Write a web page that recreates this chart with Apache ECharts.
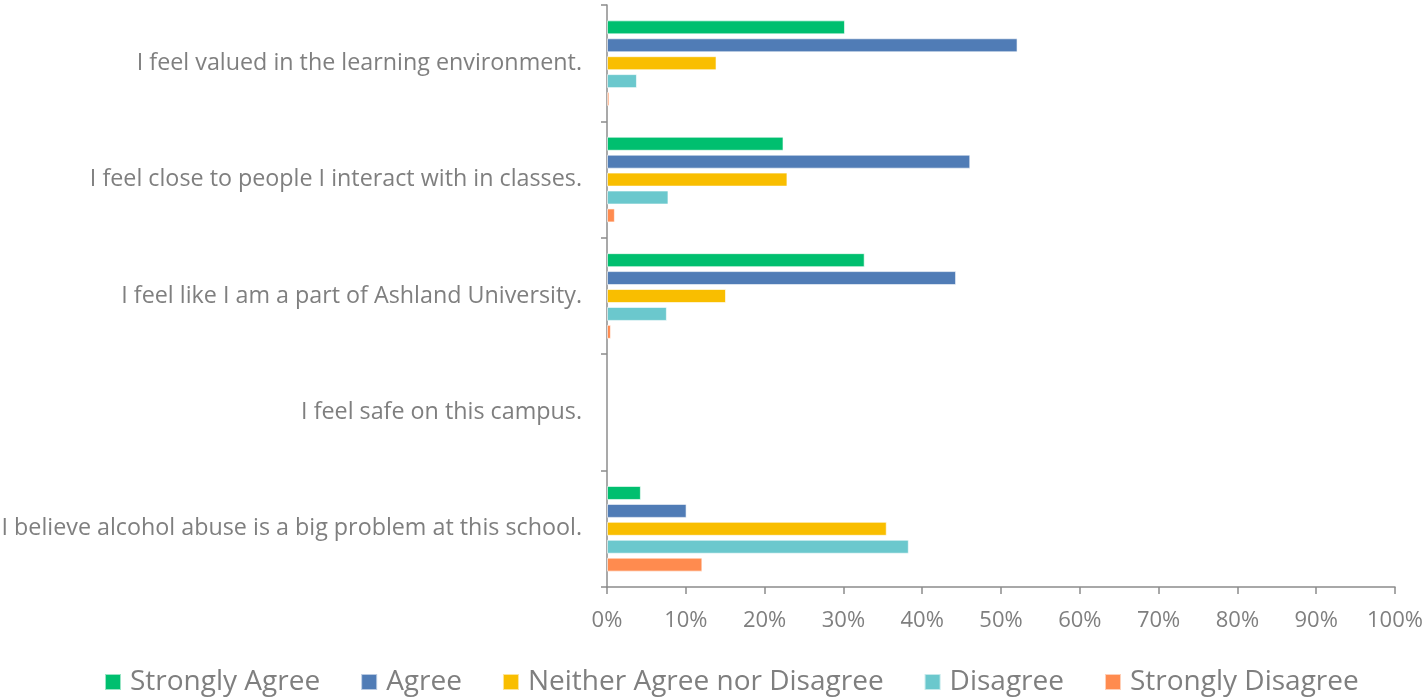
<!DOCTYPE html>
<html>
<head>
<meta charset="utf-8">
<script src="https://cdn.jsdelivr.net/npm/echarts@6/dist/echarts.min.js"></script>
<style>
html,body{margin:0;padding:0;background:#fff;}
#chart{width:1427px;height:698px;}
</style>
</head>
<body>
<div id="chart"></div>
<script>
const categories = [
  "I feel valued in the learning environment.",
  "I feel close to people I interact with in classes.",
  "I feel like I am a part of Ashland University.",
  "I feel safe on this campus.",
  "I believe alcohol abuse is a big problem at this school."
];
const seriesNames = ["Strongly Agree", "Agree", "Neither Agree nor Disagree", "Disagree", "Strongly Disagree"];
const stronglyAgree = [30.2, 22.4, 32.7, null, 4.3];
const agree = [52.1, 46.1, 44.3, null, 10.1];
const neither = [13.9, 22.9, 15.1, null, 35.5];
const disagree = [3.8, 7.8, 7.6, null, 38.3];
const stronglyDisagree = [0.3, 1.0, 0.5, null, 12.1];
const xTicks = [0, 10, 20, 30, 40, 50, 60, 70, 80, 90, 100];

const colors = ["#00BF6F", "#507CB6", "#F9BE00", "#6BC8CD", "#FF8B4F"];
const values = [stronglyAgree, agree, neither, disagree, stronglyDisagree];
const font = "Open Sans";
const gray = "#7F7F7F";

const chart = echarts.init(document.getElementById('chart'));
chart.setOption({
  animation: false,
  color: colors,
  textStyle: { fontFamily: font },
  grid: { left: 607, right: 32, top: 5, bottom: 111, containLabel: false, outerBoundsMode: 'none' },
  legend: {
    bottom: -3,
    left: 99,
    itemWidth: 16,
    itemHeight: 16,
    itemGap: 40,
    icon: 'rect',
    textStyle: { fontSize: 28, color: gray, fontFamily: font, padding: [0, 0, 0, 4] },
    data: seriesNames
  },
  xAxis: {
    type: 'value',
    min: xTicks[0],
    max: xTicks[xTicks.length - 1],
    interval: 10,
    axisLine: { show: true, lineStyle: { color: '#8C8C8C', width: 1.5 } },
    axisTick: { show: true, length: 7, lineStyle: { color: '#8C8C8C', width: 1.5 } },
    splitLine: { show: false },
    axisLabel: { formatter: '{value}%', fontSize: 22, color: gray, margin: 23, fontFamily: font }
  },
  yAxis: {
    type: 'category',
    inverse: true,
    data: categories,
    axisLine: { show: true, lineStyle: { color: '#8C8C8C', width: 1.5 } },
    axisTick: { show: true, length: 6, lineStyle: { color: '#8C8C8C', width: 1.5 } },
    axisLabel: { fontSize: 23.3, color: gray, margin: 25, fontFamily: font }
  },
  series: seriesNames.map((n, i) => ({
    name: n,
    type: 'bar',
    data: values[i],
    barWidth: 14,
    barGap: '28%',
    barCategoryGap: '26%',
    itemStyle: { color: colors[i], borderColor: 'rgba(255,255,255,0.6)', borderWidth: 1 }
  }))
});
</script>
</body>
</html>
